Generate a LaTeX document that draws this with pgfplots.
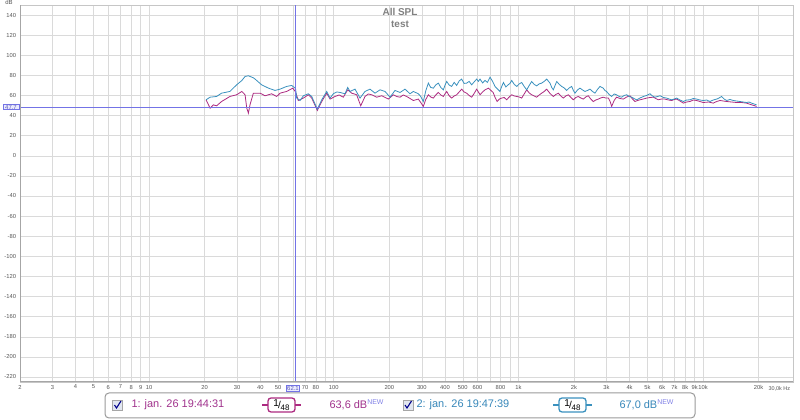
\documentclass[border=0pt]{standalone}
\usepackage{fontspec}
\setmainfont{Liberation Sans}
\usepackage{pgfplots}
\usepackage{pgfplotstable}
\pgfplotsset{compat=1.18}
\definecolor{cmag}{RGB}{172,42,128}
\definecolor{cblue}{RGB}{58,145,190}
\definecolor{cmagt}{RGB}{160,50,140}
\definecolor{cbluet}{RGB}{55,135,185}
\definecolor{cursorblue}{RGB}{115,115,230}
\definecolor{cgrid}{RGB}{218,218,218}
\definecolor{ctxt}{RGB}{85,85,85}
\definecolor{cnew}{RGB}{130,130,230}
\definecolor{cchk}{RGB}{225,230,240}

\pgfplotstableread{
f db
20.35 55.7
21.4 47.4
22.3 50.7
23.2 49.7
24.7 54.0
27.4 59.0
29.8 60.7
31.8 64.0
33.1 60.7
33.8 47.4
34.5 42.4
35.2 50.7
36.7 62.3
39.9 62.3
42.5 59.7
46.1 61.7
49.1 59.0
51.2 62.3
55.6 64.0
60.0 67.3
62.1 63.6
64.3 55.0
68.5 57.4
72.9 60.7
76.0 57.4
81.5 45.1
86.1 54.0
91.6 62.3
95.5 56.4
101.6 59.0
107 60.5
112.7 58.3
119.0 65.6
125.1 62.3
133.1 60.7
140 49.7
147.7 59.0
154 61.5
160.5 60.7
170.8 58.3
181.9 59.7
190 58.0
197.6 56.4
210.3 60.7
219 59.0
228.6 58.3
238 60.5
248.3 59.0
259 57.0
269.8 55.0
287.2 56.4
296 53.0
305.6 49.1
315 56.0
325.4 60.7
335 58.5
346.3 57.4
357 60.5
368.5 63.0
380 60.5
392.3 59.0
400 61.5
408.9 64.0
421 60.0
435.1 57.4
449 59.5
463.1 60.7
478 63.5
492.9 66.3
508 63.5
524.7 62.3
541 60.0
558.4 58.3
576 62.0
594.3 66.3
607 63.5
620 60.7
640 63.5
659.5 65.6
688 67.3
710 65.0
730 63.0
748 58.0
767 54.0
790 56.5
812 57.4
838 58.0
864 55.7
892 58.5
920 60.7
950 59.5
980 59.0
1010 58.5
1042 57.4
1075 61.5
1109 65.6
1145 62.5
1180 60.7
1218 59.5
1256 58.3
1296 60.5
1337 62.3
1380 64.0
1423 66.3
1483 62.0
1546 59.0
1595 61.0
1645 62.3
1697 59.5
1750 57.4
1807 59.5
1865 60.7
1925 58.0
1985 55.7
2045 58.0
2110 59.0
2178 57.5
2247 56.4
2318 58.5
2390 59.7
2465 56.5
2545 54.0
2625 55.5
2708 56.4
2790 57.5
2880 58.3
2970 57.5
3070 57.4
3140 54.0
3200 49.1
3300 55.0
3400 58.3
3550 57.0
3700 56.4
3860 58.5
4020 59.7
4150 56.5
4279 54.0
4415 55.0
4554 55.7
4750 56.5
4950 57.4
5160 58.0
5380 58.3
5550 57.0
5725 55.7
5970 56.5
6220 56.4
6490 55.5
6760 55.0
6980 56.0
7200 56.4
7500 54.5
7820 52.4
8150 53.5
8494 54.0
8860 55.5
9230 55.0
9620 54.0
10030 53.0
10700 53.5
11350 52.4
11850 54.0
12350 55.0
12880 54.5
13420 54.0
14300 53.5
15200 53.0
16200 53.0
17200 52.4
17750 51.5
18300 50.7
18900 50.0
19500 49.1
}\magdata

\pgfplotstableread{
f db
20.35 55.7
21.4 58.3
23.2 59.0
24.7 62.3
27.4 64.0
29.8 70.6
31.8 74.9
33.1 78.9
34.5 79.6
36.7 77.6
37.5 76.3
40.7 70.6
44.3 67.3
48.1 65.0
51.2 66.3
55.6 69.0
59.2 70.0
62.1 67.0
63.0 57.4
65.7 55.0
68.5 59.7
72.9 61.7
76.0 59.0
81.5 46.4
86.1 55.7
91.6 64.0
95.5 57.4
99.5 61.7
104 63.5
108.2 63.0
115.1 61.7
119.0 68.0
122.5 64.0
130.4 66.3
138.8 57.4
147.7 64.0
157.2 66.3
167.3 62.3
178.1 65.6
189.6 64.0
201.8 58.3
214.7 65.0
228.6 63.0
243.2 66.3
258.8 61.7
269.8 64.0
287.2 61.7
296 59.0
305.6 54.0
315 64.5
325.4 72.3
335 68.0
346.3 67.3
357 70.5
368.5 72.3
380 68.0
392.3 65.6
400 70.0
408.9 74.0
421 70.5
435.1 69.0
449 73.0
463.1 70.0
478 74.5
492.9 76.3
508 72.0
524.7 72.3
541 74.0
558.4 70.6
576 73.5
594.3 76.3
607 74.0
619.6 76.3
640 72.5
659.5 75.0
680 73.0
702 78.2
725 74.0
747 69.0
770 66.5
795 64.0
812 69.0
830 72.9
855 68.5
880 70.6
900 72.0
920 74.9
950 71.0
980 69.0
1010 71.5
1042 72.9
1075 69.0
1109 65.6
1145 70.0
1180 73.9
1218 71.0
1256 69.6
1296 71.5
1337 72.3
1380 74.0
1423 76.3
1483 72.3
1515 68.0
1546 65.6
1580 70.0
1613 73.9
1665 71.0
1716 69.0
1770 67.5
1826 65.0
1885 67.5
1943 69.0
1985 65.0
2025 62.3
2090 65.5
2155 67.3
2225 65.5
2294 64.0
2368 65.0
2442 66.3
2520 64.0
2598 62.3
2680 66.0
2766 69.0
2880 67.3
2940 65.0
3000 64.0
3100 61.0
3200 59.0
3300 61.5
3400 60.7
3510 59.0
3625 58.3
3740 60.0
3860 60.7
3980 59.0
4100 58.3
4230 57.0
4370 55.7
4560 57.5
4750 59.0
4950 60.0
5158 61.7
5320 59.5
5491 58.3
5670 59.0
5845 59.7
6100 58.0
6350 57.4
6550 56.5
6760 55.7
6980 56.5
7200 57.4
7500 55.5
7820 54.0
8150 55.5
8494 55.7
8860 57.0
9230 56.4
9620 55.5
10030 55.0
10450 55.5
10900 54.0
11350 55.5
11850 56.4
12200 57.5
12600 59.0
13000 56.5
13420 55.0
14000 56.0
14580 55.0
15200 54.5
15840 54.0
16500 53.5
17200 53.0
17750 53.5
18300 52.4
18900 51.5
19500 50.7
}\bluedata

\begin{document}
\begin{tikzpicture}
\useasboundingbox (0,0) rectangle (800bp,420bp);
\begin{axis}[
  at={(20bp,38bp)}, anchor=south west,
  scale only axis, width=773bp, height=377bp,
  xmode=log, xmin=2, xmax=30700, ymin=-225, ymax=150,
  xtick={2,3,4,5,6,7,8,9,10,20,30,40,50,60,70,80,90,100,200,300,400,500,600,700,800,900,1000,2000,3000,4000,5000,6000,7000,8000,9000,10000,20000},
  xticklabels={2,3,4,5,6,7,8,9,10,20,30,40,50,,70,80,,100,200,300,400,500,600,,800,,1k,2k,3k,4k,5k,6k,7k,8k,9k,10k,20k},
  ytick={-220,-200,...,140},
  minor xtick={},
  log basis x=10,
  major tick length=0pt,
  grid=major,
  major grid style={cgrid, line width=0.5bp},
  axis line style={draw=gray!45, line width=0.6bp},
  /pgf/number format/assume math mode=true,
  xticklabel style={font=\fontsize{5.8}{6.5}\selectfont, text=ctxt, yshift=0.5bp},
  yticklabel style={font=\fontsize{5.8}{6.5}\selectfont, text=ctxt, xshift=-0.5bp},
  clip=true,
]
\addplot[cmag, line width=0.8bp, no markers] table[x=f,y=db] {\magdata};
\addplot[cblue, line width=0.8bp, no markers] table[x=f,y=db] {\bluedata};
% cursor lines as thin filled strips (62.1 Hz, 47.7 dB)
\fill[cursorblue] (axis cs:61.65,-225) rectangle (axis cs:62.55,150);
\fill[cursorblue] (axis cs:2,47.15) rectangle (axis cs:30700,48.25);
\draw[gray!70, line width=1.4bp] (rel axis cs:0,0) -- (rel axis cs:0,1);
\draw[gray!70, line width=1.2bp] (rel axis cs:0,0) -- (rel axis cs:1,0);
\end{axis}
% cursor labels
\node[draw=cursorblue, fill=blue!8, text=cursorblue!80!black, inner sep=0.8bp, font=\fontsize{6}{7}\selectfont, line width=0.8bp] at (293bp,32bp) {62.1};
\node[draw=cursorblue, fill=blue!8, text=cursorblue!80!black, inner sep=0.8bp, font=\fontsize{6}{7}\selectfont, line width=0.8bp, minimum width=16bp] at (11bp,313bp) {47.7};
\node[font=\fontsize{5.5}{6.5}\selectfont, text=ctxt, anchor=north west] at (765bp,37bp) {30,0k Hz};
\node[font=\fontsize{6}{7}\selectfont, text=ctxt] at (9bp,418bp) {dB};
% title
\node[font=\bfseries\fontsize{10}{11}\selectfont, text=gray] at (400bp,408bp) {All SPL};
\node[font=\bfseries\fontsize{10}{11}\selectfont, text=gray] at (400bp,396bp) {test};
% legend
\draw[gray!80, rounded corners=4bp, line width=1bp] (105bp,2bp) rectangle (695bp,27bp);
\foreach \cx in {117.5,408} {
  \draw[gray!70, fill=cchk, line width=0.8bp] (\cx bp-5bp,10bp) rectangle (\cx bp+5bp,20bp);
  \draw[blue!55!black, line width=1.1bp] (\cx bp-3bp,15bp) -- (\cx bp-1bp,12bp) -- (\cx bp+3.5bp,19bp);
}
\node[anchor=west, text=cmagt, font=\fontsize{11}{12}\selectfont] at (128bp,15bp) {1: jan. 26 19:44:31};
\node[anchor=west, text=cbluet, font=\fontsize{11}{12}\selectfont] at (413bp,15bp) {2: jan. 26 19:47:39};
\draw[cmag, line width=1.3bp] (262bp,15bp) -- (268bp,15bp) (295bp,15bp) -- (301bp,15bp);
\draw[cmag, line width=1.3bp, rounded corners=3bp] (268bp,8bp) rectangle (295bp,22bp);
\node at (281.5bp,15bp) {\fontsize{10}{10}\selectfont\raisebox{1.5bp}{1}\kern-0.8bp/\kern-0.3bp\raisebox{-1.8bp}{\fontsize{8}{8}\selectfont 48}};
\draw[cblue, line width=1.3bp] (553bp,15bp) -- (559bp,15bp) (586bp,15bp) -- (592bp,15bp);
\draw[cblue, line width=1.3bp, rounded corners=3bp] (559bp,8bp) rectangle (586bp,22bp);
\node at (572.5bp,15bp) {\fontsize{10}{10}\selectfont\raisebox{1.5bp}{1}\kern-0.8bp/\kern-0.3bp\raisebox{-1.8bp}{\fontsize{8}{8}\selectfont 48}};
\node[anchor=west, text=cmagt, font=\fontsize{11}{12}\selectfont] at (326bp,15bp) {63,6 dB\raisebox{4bp}{\textcolor{cnew}{\fontsize{7}{8}\selectfont NEW}}};
\node[anchor=west, text=cbluet, font=\fontsize{11}{12}\selectfont] at (616bp,15bp) {67,0 dB\raisebox{4bp}{\textcolor{cnew}{\fontsize{7}{8}\selectfont NEW}}};
\end{tikzpicture}
\end{document}
